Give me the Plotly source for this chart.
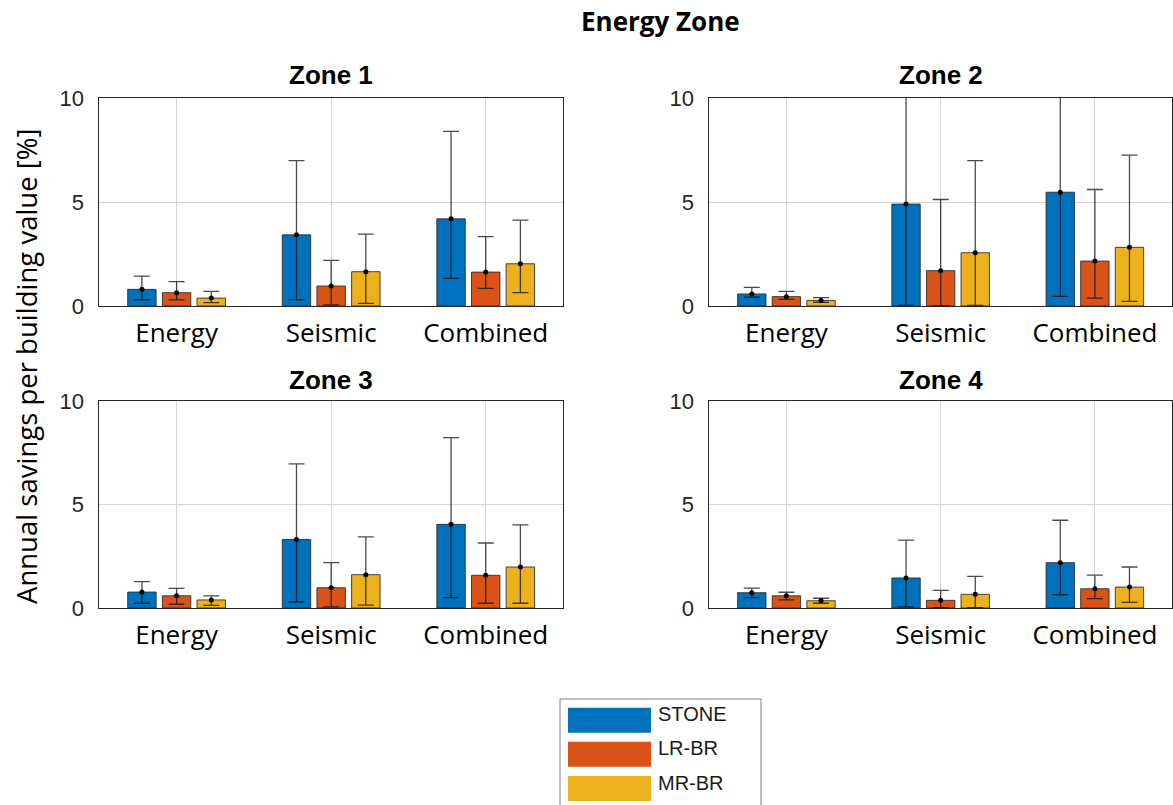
import plotly.graph_objects as go
from plotly.subplots import make_subplots

# ---- data -----------------------------------------------------------------
categories = ["Energy", "Seismic", "Combined"]
series_names = ["STONE", "LR-BR", "MR-BR"]
series_colors = ["#0072BD", "#D95319", "#EDB120"]
zone_titles = ["Zone 1", "Zone 2", "Zone 3", "Zone 4"]
y_ticks = [0, 5, 10]

# mean annual savings [%] per series (rows) and strategy (columns)
zone1_mean = [[0.80, 3.42, 4.19], [0.64, 0.96, 1.63], [0.38, 1.65, 2.03]]
zone1_high = [[1.44, 6.99, 8.40], [1.17, 2.19, 3.34], [0.70, 3.46, 4.13]]
zone1_low = [[0.29, 0.29, 1.33], [0.29, 0.05, 0.85], [0.16, 0.13, 0.64]]

zone2_mean = [[0.58, 4.90, 5.47], [0.45, 1.70, 2.16], [0.27, 2.56, 2.82]]
zone2_high = [[0.90, 11.50, 10.80], [0.70, 5.12, 5.60], [0.40, 6.99, 7.25]]
zone2_low = [[0.42, 0.03, 0.46], [0.32, 0.02, 0.38], [0.18, 0.03, 0.22]]

zone3_mean = [[0.77, 3.31, 4.04], [0.59, 0.98, 1.58], [0.39, 1.61, 1.98]]
zone3_high = [[1.27, 6.96, 8.23], [0.95, 2.19, 3.14], [0.59, 3.44, 4.02]]
zone3_low = [[0.23, 0.29, 0.50], [0.18, 0.05, 0.23], [0.13, 0.14, 0.23]]

zone4_mean = [[0.74, 1.45, 2.19], [0.59, 0.37, 0.93], [0.35, 0.66, 1.01]]
zone4_high = [[0.96, 3.28, 4.24], [0.76, 0.85, 1.59], [0.47, 1.53, 1.98]]
zone4_low = [[0.50, 0.05, 0.64], [0.39, 0.02, 0.45], [0.23, 0.02, 0.27]]

zones = [
    (zone1_mean, zone1_high, zone1_low),
    (zone2_mean, zone2_high, zone2_low),
    (zone3_mean, zone3_high, zone3_low),
    (zone4_mean, zone4_high, zone4_low),
]

# ---- figure ---------------------------------------------------------------
W, H = 1173, 805
fig = make_subplots(rows=2, cols=2)

positions = [(1, 1), (1, 2), (2, 1), (2, 2)]
for z, ((mean, high, low), (r, c)) in enumerate(zip(zones, positions)):
    for s, name in enumerate(series_names):
        fig.add_trace(
            go.Bar(
                x=categories, y=mean[s], name=name,
                marker=dict(color=series_colors[s],
                            line=dict(color="rgba(40,40,40,0.85)", width=1)),
                showlegend=False, offsetgroup=str(s),
            ),
            row=r, col=c,
        )
    for s, name in enumerate(series_names):
        up = [h - m for h, m in zip(high[s], mean[s])]
        dn = [m - l for m, l in zip(mean[s], low[s])]
        fig.add_trace(
            go.Scatter(
                x=categories, y=mean[s], mode="markers", name=name,
                marker=dict(color="black", size=5),
                error_y=dict(type="data", symmetric=False, array=up,
                             arrayminus=dn, color="rgba(15,15,15,0.75)",
                             thickness=1.3, width=8),
                showlegend=False, offsetgroup=str(s),
            ),
            row=r, col=c,
        )

# axis geometry (pixels -> paper fractions)
x_dom = [(99.3 / W, 563 / W), (709.3 / W, 1172 / W)]
y_dom = [(1 - 306 / H, 1 - 98 / H), (1 - 608 / H, 1 - 401 / H)]

for i, (r, c) in enumerate(positions):
    fig.update_xaxes(
        domain=x_dom[c - 1], type="category", range=[-0.5, 2.5],
        showline=True, mirror=True, linecolor="#262626", linewidth=1,
        showgrid=True, gridcolor="#d4d4d4", gridwidth=1, automargin=False,
        ticks="", tickfont=dict(family="Open Sans", size=26, color="black"),
        ticklabelstandoff=4,
        row=r, col=c,
    )
    fig.update_yaxes(
        domain=y_dom[r - 1], range=[0, 10], tickvals=y_ticks,
        showline=True, mirror=True, linecolor="#262626", linewidth=1,
        showgrid=True, gridcolor="#d4d4d4", gridwidth=1, zeroline=False,
        automargin=False,
        ticks="", tickfont=dict(family="Liberation Sans", size=22, color="#262626"),
        ticklabelstandoff=10,
        row=r, col=c,
    )

annotations = []
# subplot titles
title_y = [75.5, 380]
for i, (r, c) in enumerate(positions):
    xc = (x_dom[c - 1][0] + x_dom[c - 1][1]) / 2
    annotations.append(dict(
        text=f"<b>{zone_titles[i]}</b>", x=xc, y=1 - title_y[r - 1] / H,
        xref="paper", yref="paper", xanchor="center", yanchor="middle",
        showarrow=False, font=dict(family="Liberation Sans", size=26, color="black"),
    ))
# main title
annotations.append(dict(
    text="<b>Energy Zone</b>", x=660 / W, y=1 - 21 / H, xref="paper", yref="paper",
    xanchor="center", yanchor="middle", showarrow=False,
    font=dict(family="Open Sans", size=26, color="black"),
))
# shared y-axis title
annotations.append(dict(
    text="Annual savings per building value [%]", x=26 / W, y=1 - 366 / H,
    xref="paper", yref="paper", xanchor="center", yanchor="middle",
    textangle=-90, showarrow=False,
    font=dict(family="Open Sans", size=27.5, color="black"),
))

# legend box with wide colour swatches
shapes = [dict(type="rect", xref="paper", yref="paper",
               x0=560 / W, x1=761 / W, y0=1 - 812 / H, y1=1 - 699 / H,
               line=dict(color="#7f7f7f", width=1), fillcolor="white")]
sw_top = [707.7, 741.7, 776.0]
txt_y = [714, 748, 783]
for s, name in enumerate(series_names):
    shapes.append(dict(type="rect", xref="paper", yref="paper",
                       x0=568 / W, x1=651 / W,
                       y0=1 - (sw_top[s] + 25) / H, y1=1 - sw_top[s] / H,
                       line=dict(width=0), fillcolor=series_colors[s]))
    annotations.append(dict(
        text=name, x=656 / W, y=1 - txt_y[s] / H, xref="paper", yref="paper",
        xanchor="left", yanchor="middle", showarrow=False,
        font=dict(family="Liberation Sans", size=20, color="#1a1a1a"),
    ))

fig.update_layout(
    width=W, height=H, margin=dict(l=0, r=0, t=0, b=0, autoexpand=False),
    paper_bgcolor="white", plot_bgcolor="white",
    barmode="group", bargap=0.327, bargroupgap=0.18,
    scattermode="group", scattergap=0.327,
    showlegend=False, annotations=annotations, shapes=shapes,
)

fig.write_html("out.html")
